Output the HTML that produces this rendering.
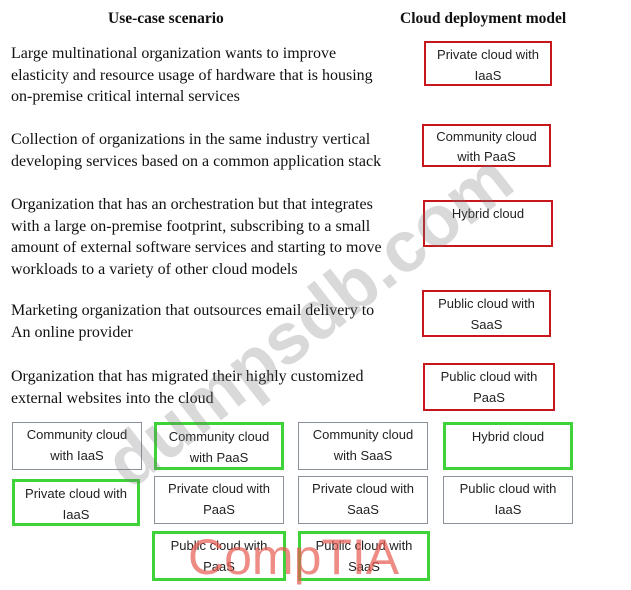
<!DOCTYPE html>
<html><head><meta charset="utf-8"><style>
body{margin:0;width:631px;height:590px;background:#fff;position:relative;overflow:hidden;font-family:"Liberation Serif",serif;}
.h{position:absolute;font-weight:bold;font-size:15.5px;color:#111;}
.t{position:absolute;left:11px;font-size:16px;line-height:21.5px;color:#111;}
.b{position:absolute;box-sizing:border-box;font-family:"Liberation Sans",sans-serif;font-size:13px;line-height:21px;text-align:center;color:#222;padding-top:1px;}
.r{border:2px solid #c8161d;}
.g{border:1px solid #8a9199;}
.gr{border:3px solid #3fd33a;}
.wm{position:absolute;font-family:"Liberation Sans",sans-serif;font-weight:bold;}
</style></head><body>
<div class="h" style="left:108px;top:10px">Use-case scenario</div>
<div class="h" style="left:400px;top:10px">Cloud deployment model</div>
<div class="t" style="top:43px">Large multinational organization wants to improve<br>elasticity and resource usage of hardware that is housing<br>on-premise critical internal services</div>
<div class="t" style="top:129px">Collection of organizations in the same industry vertical<br>developing services based on a common application stack</div>
<div class="t" style="top:194px">Organization that has an orchestration but that integrates<br>with a large on-premise footprint, subscribing to a small<br>amount of external software services and starting to move<br>workloads to a variety of other cloud models</div>
<div class="t" style="top:300px">Marketing organization that outsources email delivery to<br>An online provider</div>
<div class="t" style="top:366px">Organization that has migrated their highly customized<br>external websites into the cloud</div>

<div class="b r" style="left:424px;top:41px;width:128px;height:45px">Private cloud with<br>IaaS</div>
<div class="b r" style="left:422px;top:124px;width:129px;height:43px;line-height:20px">Community cloud<br>with PaaS</div>
<div class="b r" style="left:423px;top:200px;width:130px;height:47px">Hybrid cloud</div>
<div class="b r" style="left:422px;top:290px;width:129px;height:47px">Public cloud with<br>SaaS</div>
<div class="b r" style="left:423px;top:363px;width:132px;height:48px">Public cloud with<br>PaaS</div>

<div class="b g" style="left:12px;top:422px;width:130px;height:48px">Community cloud<br>with IaaS</div>
<div class="b gr" style="left:154px;top:422px;width:130px;height:48px">Community cloud<br>with PaaS</div>
<div class="b g" style="left:298px;top:422px;width:130px;height:48px">Community cloud<br>with SaaS</div>
<div class="b gr" style="left:443px;top:422px;width:130px;height:48px">Hybrid cloud</div>
<div class="b gr" style="left:12px;top:479px;width:128px;height:47px">Private cloud with<br>IaaS</div>
<div class="b g" style="left:154px;top:476px;width:130px;height:48px">Private cloud with<br>PaaS</div>
<div class="b g" style="left:298px;top:476px;width:130px;height:48px">Private cloud with<br>SaaS</div>
<div class="b g" style="left:443px;top:476px;width:130px;height:48px">Public cloud with<br>IaaS</div>
<div class="b gr" style="left:152px;top:531px;width:134px;height:50px">Public cloud with<br>PaaS</div>
<div class="b gr" style="left:298px;top:531px;width:132px;height:50px">Public cloud with<br>SaaS</div>

<div class="wm" style="left:90px;font-size:72px;color:rgba(120,120,120,0.28);transform:rotate(-38deg);transform-origin:left top;top:440px;">dumpsdb.com</div>
<div class="wm" style="left:188px;top:528px;font-size:50px;font-weight:normal;color:rgba(230,90,80,0.7);">CompTIA</div>
</body></html>
